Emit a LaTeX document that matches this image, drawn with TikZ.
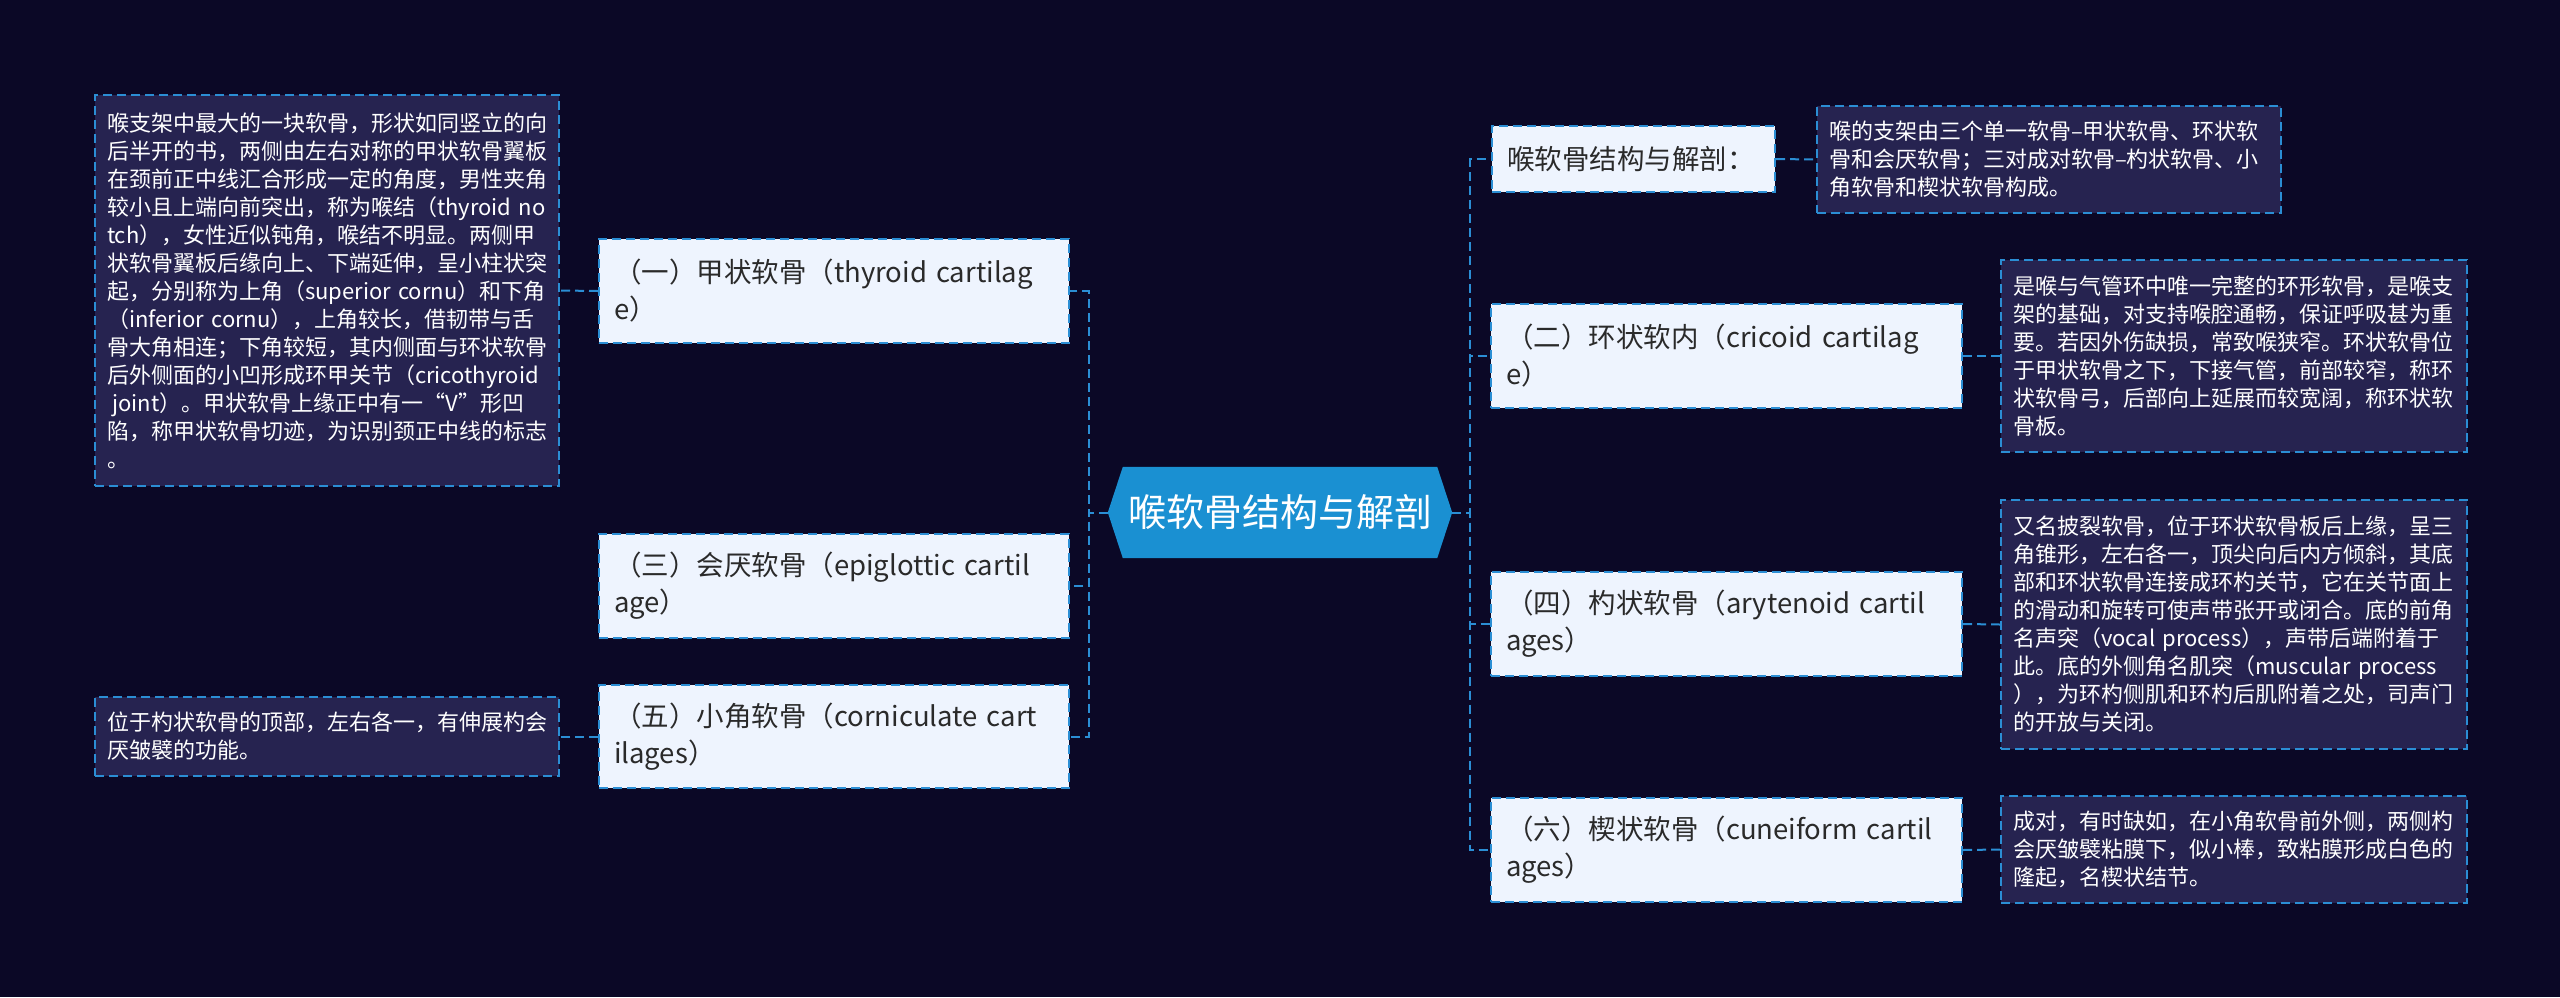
\documentclass[tikz,border=0pt]{standalone}
\usepackage{fontspec}
\setmainfont{Noto Sans CJK SC}
\usetikzlibrary{backgrounds}
\definecolor{bgc}{HTML}{0B0826}
\definecolor{descfill}{HTML}{262350}
\definecolor{topicfill}{HTML}{EEF4FE}
\definecolor{lineblue}{HTML}{2B8ED4}
\definecolor{hexfill}{HTML}{1A90D2}
\definecolor{topictext}{HTML}{2A2A2A}
\tikzset{
  dashline/.style={dash pattern=on 9pt off 5pt, line width=2pt, draw=lineblue},
  conn/.style={dashline},
  topic/.style={dashline, fill=topicfill, text=topictext, font=\fontsize{27.5}{37}\selectfont, align=left, inner xsep=15pt, inner ysep=0pt, anchor=north west},
  desc/.style={dashline, fill=descfill, text=white, font=\fontsize{22}{28}\selectfont, align=left, inner xsep=12pt, inner ysep=0pt, anchor=north west},
}
\begin{document}
\begin{tikzpicture}[x=1pt,y=-1pt]
\useasboundingbox (0,0) rectangle (2560,997);
% central node
\node[minimum width=344pt, minimum height=91pt, inner sep=0pt, text=white, font=\fontsize{38}{42}\selectfont] (c) at (1280,512.5) {喉软骨结构与解剖};
\begin{scope}[on background layer]
\fill[bgc] (0,0) rectangle (2560,997);
\fill[hexfill] ([xshift=15pt]c.north west) -- ([xshift=-15pt]c.north east) -- (c.east) -- ([xshift=-15pt]c.south east) -- ([xshift=15pt]c.south west) -- (c.west) -- cycle;
\end{scope}
% left topics
\node[topic, text width=440pt, minimum height=104pt] (t1) at (598,238) {（一）甲状软骨（thyroid~cartilag\\e）};
\node[topic, text width=440pt, minimum height=104pt] (t3) at (598,533) {（三）会厌软骨（epiglottic~cartil\\age）};
\node[topic, text width=440pt, minimum height=103pt] (t5) at (598,684) {（五）小角软骨（corniculate~cart\\ilages）};
% right topics
\node[topic, text width=253pt, minimum height=66pt] (r0) at (1491,125) {喉软骨结构与解剖：};
\node[topic, text width=441pt, minimum height=104pt] (r2) at (1490,303) {（二）环状软内（cricoid~cartilag\\e）};
\node[topic, text width=441pt, minimum height=104pt] (r4) at (1490,571) {（四）杓状软骨（arytenoid~cartil\\ages）};
\node[topic, text width=441pt, minimum height=104pt] (r6) at (1490,797) {（六）楔状软骨（cuneiform~cartil\\ages）};
% descriptions
\node[desc, text width=440pt, minimum height=391pt] (d1) at (94,94) {喉支架中最大的一块软骨，形状如同竖立的向\\后半开的书，两侧由左右对称的甲状软骨翼板\\在颈前正中线汇合形成一定的角度，男性夹角\\较小且上端向前突出，称为喉结（thyroid~no\\tch），女性近似钝角，喉结不明显。两侧甲\\状软骨翼板后缘向上、下端延伸，呈小柱状突\\起，分别称为上角（superior~cornu）和下角\\（inferior~cornu），上角较长，借韧带与舌\\骨大角相连；下角较短，其内侧面与环状软骨\\后外侧面的小凹形成环甲关节（cricothyroid\\\hspace*{0.25em}joint）。甲状软骨上缘正中有一“V”形凹\\陷，称甲状软骨切迹，为识别颈正中线的标志\\。};
\node[desc, text width=440pt, minimum height=79pt] (d5) at (94,696) {位于杓状软骨的顶部，左右各一，有伸展杓会\\厌皱襞的功能。};
\node[desc, text width=440pt, minimum height=107pt] (rd0) at (1816,105) {喉的支架由三个单一软骨–甲状软骨、环状软\\骨和会厌软骨；三对成对软骨–杓状软骨、小\\角软骨和楔状软骨构成。};
\node[desc, text width=442pt, minimum height=192pt] (rd2) at (2000,259) {是喉与气管环中唯一完整的环形软骨，是喉支\\架的基础，对支持喉腔通畅，保证呼吸甚为重\\要。若因外伤缺损，常致喉狭窄。环状软骨位\\于甲状软骨之下，下接气管，前部较窄，称环\\状软骨弓，后部向上延展而较宽阔，称环状软\\骨板。};
\node[desc, text width=442pt, minimum height=249pt] (rd4) at (2000,499) {又名披裂软骨，位于环状软骨板后上缘，呈三\\角锥形，左右各一，顶尖向后内方倾斜，其底\\部和环状软骨连接成环杓关节，它在关节面上\\的滑动和旋转可使声带张开或闭合。底的前角\\名声突（vocal~process），声带后端附着于\\此。底的外侧角名肌突（muscular~process\\），为环杓侧肌和环杓后肌附着之处，司声门\\的开放与关闭。};
\node[desc, text width=442pt, minimum height=107pt] (rd6) at (2000,795) {成对，有时缺如，在小角软骨前外侧，两侧杓\\会厌皱襞粘膜下，似小棒，致粘膜形成白色的\\隆起，名楔状结节。};
% connectors
\draw[conn] (c.west) -- ++(-19,0) |- (t1.east);
\draw[conn] (c.west) -- ++(-19,0) |- (t3.east);
\draw[conn] (c.west) -- ++(-19,0) |- (t5.east);
\draw[conn] (c.east) -- ++(18,0) |- (r0.west);
\draw[conn] (c.east) -- ++(18,0) |- (r2.west);
\draw[conn] (c.east) -- ++(18,0) |- (r4.west);
\draw[conn] (c.east) -- ++(18,0) |- (r6.west);
\draw[conn] (t1.west) -- (d1.east);
\draw[conn] (t5.west) -- (d5.east);
\draw[conn] (r0.east) -- (rd0.west);
\draw[conn] (r2.east) -- (rd2.west);
\draw[conn] (r4.east) -- (rd4.west);
\draw[conn] (r6.east) -- (rd6.west);
\end{tikzpicture}
\end{document}
